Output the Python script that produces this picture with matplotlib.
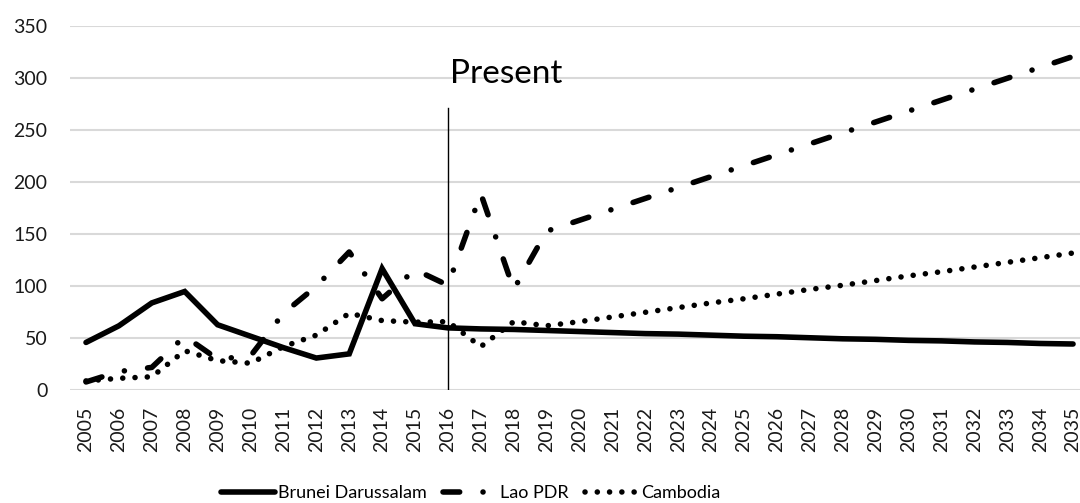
import numpy as np
import matplotlib
matplotlib.use("Agg")
import matplotlib.pyplot as plt

plt.rcParams["font.family"] = ["Lato", "DejaVu Sans"]

# Data
years = [str(y) for y in range(2005, 2036)]
brunei = [46, 62, 84, 95, 63, 52, 41, 31, 35, 117, 64, 60,
          59, 58.5, 57.5, 56.5, 55.5, 54.5, 54, 53, 52, 51.5, 50.5,
          49.5, 49, 48, 47.5, 46.5, 46, 45, 44.5]
lao = [8, 18, 22, 52, 30, 33, 74, 100, 133, 88, 116, 101,
       189, 97, 153, 163.5, 174, 184.5, 195, 205.5, 216, 226.5, 237,
       247.5, 258, 268.5, 279, 289.5, 300, 310.5, 321]
cambodia = [9, 11.5, 13, 38, 28.5, 26, 42, 53, 74, 67, 65.5, 66,
            42, 66, 62, 66, 70.5, 75, 79.5, 84, 88, 92.5, 97,
            101, 105.5, 110, 114, 118.5, 123, 127.5, 132]
series_names = ["Brunei Darussalam", "Lao PDR", "Cambodia"]
present_year = "2016"
present_top = 271
y_ticks = [0, 50, 100, 150, 200, 250, 300, 350]

x = np.arange(len(years))

fig = plt.figure(figsize=(10.8, 5.03), dpi=100)
ax = fig.add_axes([0.0644, 0.2241, 0.9444, 0.7236])

ax.plot(x, brunei, color="black", lw=4, solid_capstyle="round",
        solid_joinstyle="miter", label=series_names[0])
ax.plot(x, lao, color="black", lw=4, dash_capstyle="round",
        linestyle=(0, (3, 4.2, 0.01, 4.2)), label=series_names[1])
ax.plot(x, cambodia, color="black", lw=4, dash_capstyle="round",
        linestyle=(0, (0.01, 2.2)), label=series_names[2])

# "Present" marker
px = years.index(present_year)
ax.plot([px, px], [0, present_top], color="black", lw=1)
ax.text(px + 0.06, 295.5, "Present", fontsize=24, va="baseline", ha="left")

ax.set_xlim(-0.5, len(years) - 0.5)
ax.set_ylim(0, 350)
ax.set_xticks(x)
ax.set_xticklabels(years, rotation=90)
ax.set_yticks(y_ticks)
ax.tick_params(axis="both", length=0, labelsize=14, colors="#1a1a1a")
ax.tick_params(axis="x", pad=12)
ax.tick_params(axis="y", pad=16)
ax.yaxis.grid(True, color="#d9d9d9", lw=1.5)
ax.set_axisbelow(True)
for s in ax.spines.values():
    s.set_visible(False)

fig.legend(loc="center", bbox_to_anchor=(0.436, 1 - 493 / 503), ncol=3,
           frameon=False, fontsize=13, handlelength=3.0, handletextpad=0.15,
           columnspacing=0.9)

fig.savefig("out.png", dpi=100)
